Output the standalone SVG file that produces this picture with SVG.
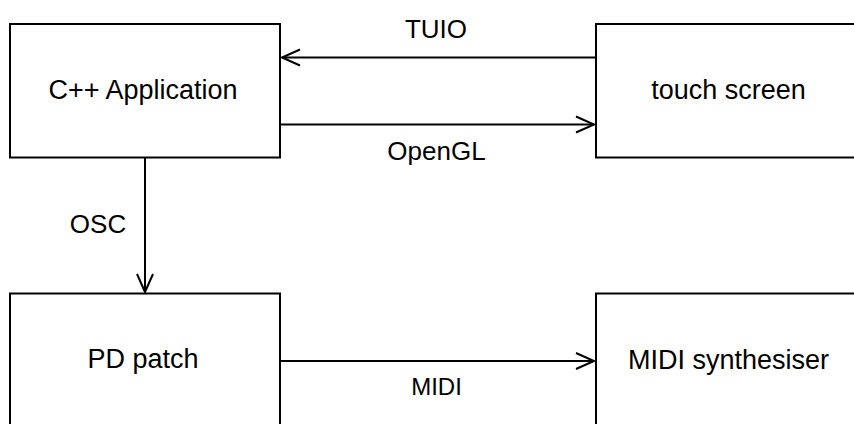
<svg xmlns="http://www.w3.org/2000/svg" width="854" height="424" viewBox="0 0 854 424">
<style>
.box{fill:#fff;stroke:#000;stroke-width:2}
.lbl{font-family:"Liberation Sans",Arial,Helvetica,sans-serif;font-size:26px;fill:#000;text-anchor:middle}
.nt{font-size:27px}
.edge{fill:none;stroke:#000;stroke-width:2}
.head{fill:none;stroke:#000;stroke-width:2}
</style>
<rect width="854" height="424" fill="#fff"/>
<g id="node-cpp">
<rect class="box" x="10" y="24" width="270" height="133.5"/>
<text class="lbl nt" x="143" y="99">C++ Application</text>
</g>
<g id="node-touch">
<rect class="box" x="596" y="24" width="270" height="133.5"/>
<text class="lbl nt" x="728.5" y="99">touch screen</text>
</g>
<g id="node-pd">
<rect class="box" x="10" y="293.5" width="270" height="140"/>
<text class="lbl nt" x="143" y="368">PD patch</text>
</g>
<g id="node-midi">
<rect class="box" x="596" y="293.5" width="270" height="140"/>
<text class="lbl nt" x="728.5" y="369">MIDI synthesiser</text>
</g>
<g id="connectors">
<line class="edge" x1="596" y1="57.5" x2="282" y2="57.5"/>
<polyline class="head" points="300,49.5 282,57.5 300,65.5"/>
<text class="lbl" x="436" y="37.5">TUIO</text>
<line class="edge" x1="280" y1="124.5" x2="594" y2="124.5"/>
<polyline class="head" points="576,116.5 594,124.5 576,132.5"/>
<text class="lbl" x="436.5" y="159.5">OpenGL</text>
<line class="edge" x1="145" y1="157.5" x2="145" y2="292"/>
<polyline class="head" points="137,274 145,292 153,274"/>
<text class="lbl" x="98" y="233">OSC</text>
<line class="edge" x1="280" y1="361" x2="594" y2="361"/>
<polyline class="head" points="576,353 594,361 576,369"/>
<text class="lbl" x="436.5" y="395" style="font-size:24px">MIDI</text>
</g>
</svg>
